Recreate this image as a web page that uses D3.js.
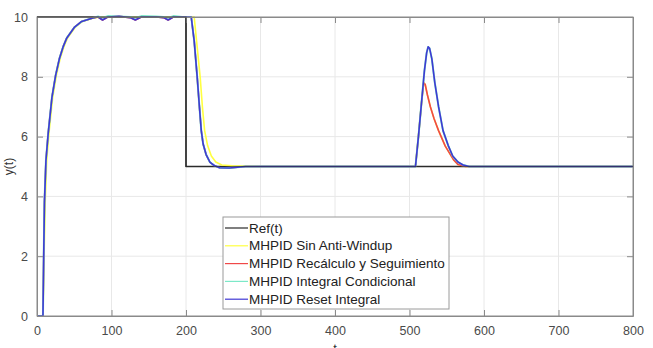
<!DOCTYPE html>
<html>
<head>
<meta charset="utf-8">
<script src="https://cdn.jsdelivr.net/npm/d3@7"></script>
<style>
body { margin: 0; background: #fff; }
svg { display: block; font-family: "Liberation Sans", Arial, sans-serif; }
</style>
</head>
<body>
<svg id="svg" width="653" height="348"></svg>
<script>
// series data
var refT = [0, 200, 200, 800];
var refY = [10, 10, 5, 5];

var sinT = [0, 8, 9.5, 11, 13, 16, 21, 26, 31, 36, 41, 51, 61, 76, 85, 211, 215, 219, 222, 225, 229, 234, 240, 248, 262, 300, 508, 512, 516, 519, 521, 524, 528, 533, 539, 548, 559, 565, 575, 800];
var sinY = [0, 0, 2, 3.8, 5.2, 6.1, 7.3, 8.05, 8.6, 9.0, 9.3, 9.65, 9.85, 9.97, 10, 10, 9.0, 8.0, 7.0, 6.2, 5.7, 5.35, 5.15, 5.05, 5.02, 5, 5, 6.0, 7.1, 7.8, 7.75, 7.4, 7.0, 6.6, 6.2, 5.68, 5.23, 5.07, 5, 5];

var recT = [0, 8, 9, 10, 12, 15, 20, 25, 30, 35, 40, 50, 60, 75, 82, 88, 95, 110, 125, 132, 140, 160, 170, 176, 183, 195, 207, 211, 215, 218, 220.5, 223, 227, 232, 238, 245, 258, 280, 508, 512, 516, 519, 521, 524, 528, 533, 539, 548, 559, 565, 575, 800];
var recY = [0, 0, 2, 3.8, 5.2, 6.1, 7.3, 8.05, 8.6, 9.0, 9.3, 9.65, 9.85, 9.97, 10, 9.9, 10, 10.02, 9.98, 9.9, 10, 10, 9.98, 9.9, 10, 10, 10, 9.2, 8.0, 7.0, 6.2, 5.75, 5.4, 5.15, 5.03, 4.96, 4.95, 5, 5, 6.0, 7.1, 7.8, 7.75, 7.4, 7.0, 6.6, 6.2, 5.68, 5.23, 5.07, 5, 5];

var condT = [0, 8, 9, 10, 12, 15, 20, 25, 30, 35, 40, 50, 60, 75, 82, 88, 95, 110, 125, 132, 140, 160, 170, 176, 183, 195, 207, 211, 215, 218, 220.5, 223, 227, 232, 238, 245, 258, 280, 508, 512, 516, 520, 523, 525, 527, 530, 534, 539, 545, 552, 558, 565, 572, 580, 800];
var condY = [0, 0, 2, 3.8, 5.2, 6.1, 7.3, 8.05, 8.6, 9.0, 9.3, 9.65, 9.85, 9.97, 10.02, 9.97, 10.03, 10.02, 10.0, 9.97, 10.03, 10.02, 10.0, 9.97, 10.03, 10, 10, 9.2, 8.0, 7.0, 6.2, 5.75, 5.4, 5.15, 5.03, 4.96, 4.95, 5, 5, 6.0, 7.1, 8.2, 8.8, 9.0, 8.95, 8.6, 7.8, 7.0, 6.2, 5.7, 5.35, 5.15, 5.05, 5, 5];

var resetT = [0, 8, 9, 10, 12, 15, 20, 25, 30, 35, 40, 50, 60, 75, 82, 88, 95, 110, 125, 132, 140, 160, 170, 176, 183, 195, 207, 211, 215, 218, 220.5, 223, 227, 232, 238, 245, 258, 280, 508, 512, 516, 520, 523, 525, 527, 530, 534, 539, 545, 552, 558, 565, 572, 580, 800];
var resetY = [0, 0, 2, 3.8, 5.2, 6.1, 7.3, 8.05, 8.6, 9.0, 9.3, 9.65, 9.85, 9.97, 10, 9.9, 10, 10.02, 9.98, 9.9, 10, 10, 9.98, 9.9, 10, 10, 10, 9.2, 8.0, 7.0, 6.2, 5.75, 5.4, 5.15, 5.03, 4.96, 4.95, 5, 5, 6.0, 7.1, 8.2, 8.8, 9.0, 8.95, 8.6, 7.8, 7.0, 6.2, 5.7, 5.35, 5.15, 5.05, 5, 5];

var names = ["Ref(t)", "MHPID Sin Anti-Windup", "MHPID Recálculo y Seguimiento", "MHPID Integral Condicional", "MHPID Reset Integral"];
var colors = ["#2b2b2b", "#ffff40", "#f04848", "#7ce8c8", "#4038d4"];
var xTicks = [0, 100, 200, 300, 400, 500, 600, 700, 800];
var yTicks = [0, 2, 4, 6, 8, 10];

var svg = d3.select("#svg"),
    margin = {top: 17, right: 20, bottom: 32, left: 37},
    width = 653 - margin.left - margin.right,
    height = 348 - margin.top - margin.bottom;

var x = d3.scaleLinear().domain([0, 800]).range([0, width]);
var y = d3.scaleLinear().domain([0, 10]).range([height, 0]);

var g = svg.append("g").attr("transform", "translate(" + margin.left + "," + margin.top + ")");

// grid
g.append("g").selectAll("line").data(xTicks.slice(1, -1)).join("line")
    .attr("x1", d => x(d)).attr("x2", d => x(d)).attr("y1", 0).attr("y2", height)
    .attr("stroke", "#e8e8e8").attr("stroke-width", 1);
g.append("g").selectAll("line").data(yTicks.slice(1, -1)).join("line")
    .attr("y1", d => y(d)).attr("y2", d => y(d)).attr("x1", 0).attr("x2", width)
    .attr("stroke", "#e8e8e8").attr("stroke-width", 1);

var line = d3.line().x(d => x(d[0])).y(d => y(d[1]));

var series = [
    d3.zip(refT, refY),
    d3.zip(sinT, sinY),
    d3.zip(recT, recY),
    d3.zip(condT, condY),
    d3.zip(resetT, resetY)
];

g.append("defs").append("clipPath").attr("id", "clip")
    .append("rect").attr("x", -1).attr("y", -2).attr("width", width + 2).attr("height", height + 3);

var plot = g.append("g").attr("clip-path", "url(#clip)");
series.forEach((s, i) => {
    plot.append("path")
        .datum(s)
        .attr("d", line)
        .attr("fill", "none")
        .attr("stroke", colors[i])
        .attr("stroke-width", i == 0 ? 1.6 : (i == 3 ? 2 : 1.6))
        .attr("stroke-linejoin", "round");
});

// axes, matlab style (ticks inward, box)
var tick = 6;
var xAxis = d3.axisBottom(x).tickValues(xTicks).tickSizeInner(-tick).tickSizeOuter(0).tickPadding(10);
var yAxis = d3.axisLeft(y).tickValues(yTicks).tickSizeInner(-tick).tickSizeOuter(0).tickPadding(9);

var gx = g.append("g").attr("transform", "translate(0," + height + ")").call(xAxis);
var gy = g.append("g").call(yAxis);
g.append("g").call(d3.axisTop(x).tickValues(xTicks).tickSizeInner(-tick).tickSizeOuter(0).tickFormat(""));
g.append("g").attr("transform", "translate(" + width + ",0)")
    .call(d3.axisRight(y).tickValues(yTicks).tickSizeInner(-tick).tickSizeOuter(0).tickFormat(""));

g.selectAll(".domain").attr("stroke", "#8a8a8a");
g.selectAll(".tick line").attr("stroke", "#8a8a8a");
g.selectAll(".tick text").attr("fill", "#4a4a4a").style("font-size", "12.5px");

// box
g.append("rect").attr("width", width).attr("height", height)
    .attr("fill", "none").attr("stroke", "#8a8a8a").attr("stroke-width", 1);
// ref on top edge
g.append("path").datum(series[0]).attr("d", line).attr("fill", "none")
    .attr("stroke", colors[0]).attr("stroke-width", 1.2).attr("opacity", 0.6);

// axis labels
svg.append("text")
    .attr("transform", "translate(13," + (margin.top + height / 2) + ") rotate(-90)")
    .attr("text-anchor", "middle")
    .style("font-size", "12px").attr("fill", "#333")
    .text("y(t)");
svg.append("text")
    .attr("x", margin.left + width / 2).attr("y", 353)
    .attr("text-anchor", "middle")
    .style("font-size", "13px").attr("fill", "#333")
    .text("t");

// legend
var lg = svg.append("g").attr("transform", "translate(223,217)");
lg.append("rect").attr("width", 226).attr("height", 92)
    .attr("fill", "#fff").attr("stroke", "#9a9a9a").attr("stroke-width", 1);
names.forEach((n, i) => {
    var yy = 11 + i * 17.8;
    lg.append("line").attr("x1", 2).attr("x2", 25).attr("y1", yy).attr("y2", yy)
        .attr("stroke", colors[i]).attr("stroke-width", 1.2);
    lg.append("text").attr("x", 26).attr("y", yy + 4.5)
        .style("font-size", "13.5px").attr("fill", "#222")
        .text(n);
});
</script>
</body>
</html>
